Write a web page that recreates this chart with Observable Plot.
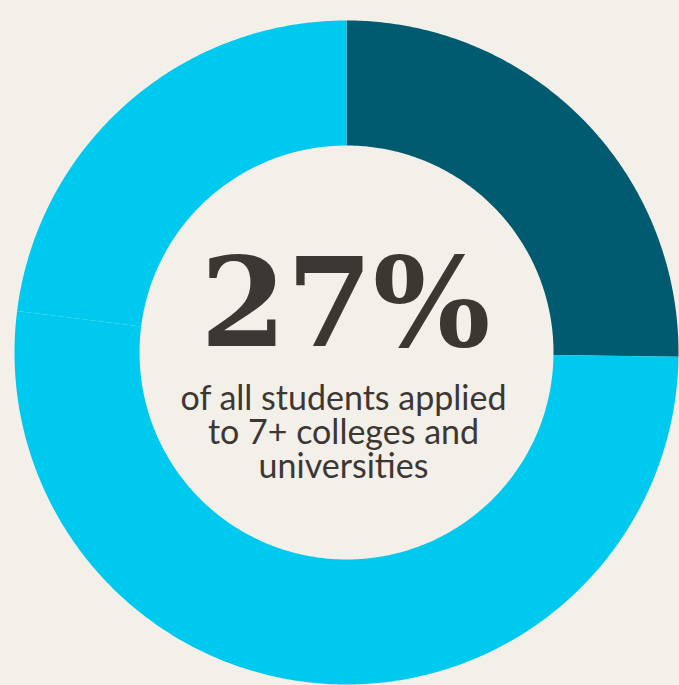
<!DOCTYPE html>
<html><head><meta charset="utf-8">
<script src="https://cdn.jsdelivr.net/npm/d3@7"></script>
<script src="https://cdn.jsdelivr.net/npm/@observablehq/plot@0.6"></script>
<style>
html,body{margin:0;padding:0;background:#f3efe9;overflow:hidden;}
</style></head><body><div id="chart"></div>
<script>
// Data
const segments = ["Applied to 7+ colleges", "Other (part 1)", "Other (part 2)"];
const shares = [25.2, 51.8, 23.0];            // percent of the ring
const segmentColors = ["#005b71", "#00c9ef", "#00c9ef"];
const headline = ["27%"];
const captionLines = ["of all students applied", "to 7+ colleges and", "universities"];

// ring geometry (angular radii on the globe used as a polar canvas)
const OUTER = 60;
const INNER = OUTER * 207 / 332;

let acc = 0;
const features = segments.map((name, i) => {
  const a0 = acc / 100 * 360;
  acc += shares[i];
  const a1 = acc / 100 * 360;
  const outer = d3.range(a0, a1, 0.5).concat([a1]).map(a => [180 - a, 90 - OUTER]);
  const inner = d3.range(a1, a0, -0.5).concat([a0]).map(a => [180 - a, 90 - INNER]);
  const ring = outer.concat(inner, [outer[0]]);
  return {type: "Feature", properties: {name, color: segmentColors[i]},
          geometry: {type: "Polygon", coordinates: [ring]}};
});

const chart = Plot.plot({
  width: 679,
  height: 685,
  marginLeft: 14, marginRight: 1, marginTop: 20, marginBottom: 1,
  style: {background: "#f3efe9", overflow: "visible"},
  projection: {
    type: "azimuthal-equidistant",
    rotate: [0, -90],
    domain: d3.geoCircle().center([0, 90]).radius(OUTER)()
  },
  marks: [
    Plot.geo(features, {fill: d => d.properties.color, stroke: "none"}),
    Plot.text(headline, {text: d => d, frameAnchor: "middle", dx: -1, dy: -46,
      fontSize: 124, fontFamily: "DejaVu Serif", fontWeight: "bold", fill: "#3d3734"}),
    Plot.text([captionLines.join("\n")], {text: d => d, frameAnchor: "middle", dx: -3, dy: 81,
      lineHeight: 1.0, fontSize: 34, fontFamily: "Lato", fill: "#3d3734"})
  ]
});
document.getElementById("chart").appendChild(chart);
</script>
</body></html>
